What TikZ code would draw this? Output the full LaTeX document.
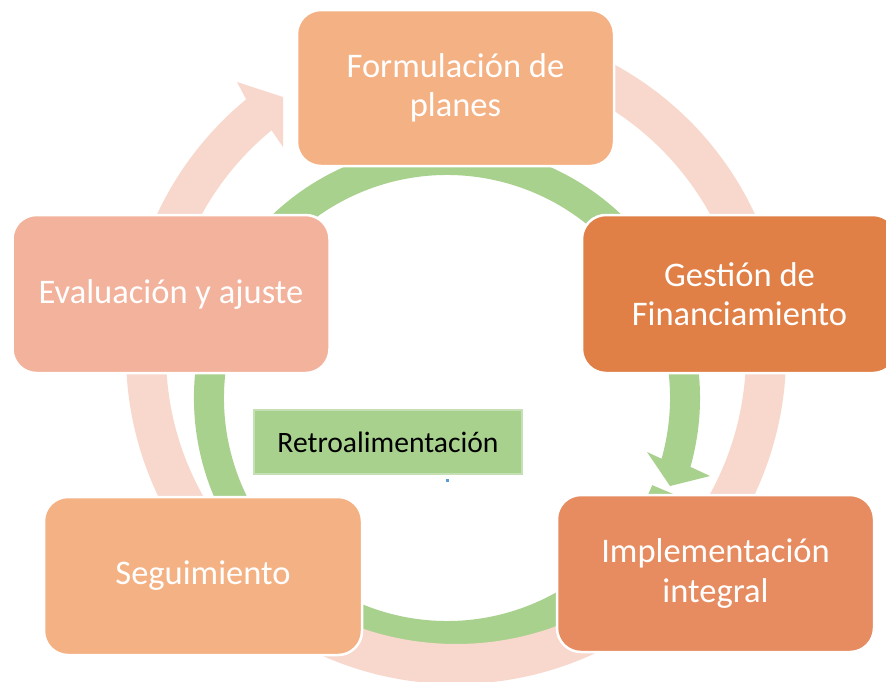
\documentclass[tikz,border=0pt]{standalone}
\usepackage{fontspec}
\setmainfont{Carlito}
\definecolor{ringpink}{HTML}{F8D8CD}
\definecolor{ringgreen}{HTML}{A9D18E}
\definecolor{boxlight}{HTML}{F4B183}
\definecolor{boxdark}{HTML}{E07F46}
\definecolor{boxmid}{HTML}{E68C60}
\definecolor{boxsalmon}{HTML}{F2B29C}
\definecolor{retroborder}{HTML}{C5E0B4}
\definecolor{dotblue}{HTML}{5B9BD5}
\begin{document}
\begin{tikzpicture}[x=1pt,y=-1pt,
  stagebox/.style={draw=white, line width=2.5pt, rounded corners=24pt, text=white,
    align=center, inner sep=0pt, font=\fontsize{34.5}{39.5}\selectfont},
  retrobox/.style={draw=retroborder, fill=ringgreen, line width=2pt, text=black,
    inner sep=0pt, font=\fontsize{29.6}{34}\selectfont}]
\useasboundingbox (0,0) rectangle (886,681);
\clip (0,0) rectangle (886,681);
\fill[white] (0,0) rectangle (886,681);
% green feedback ring
\begin{scope}[shift={(447pt,-398pt)}, y=1pt]
  \fill[ringgreen] (-23:253) arc[start angle=-23, end angle=-375.8, radius=253]
    -- (263,-78) -- (223,-88) -- (200,-54)
    -- (-375.8:223) arc[start angle=-375.8, end angle=-23, radius=223] -- cycle;
\end{scope}
% pink cycle ring
\begin{scope}[shift={(456pt,-354pt)}, y=1pt]
  \fill[ringpink] (110:330) arc[start angle=110, end angle=-230.5, radius=330]
    -- (-219,272) -- (-173,257) -- (-173,207)
    -- (-230.5:290) arc[start angle=-230.5, end angle=110, radius=290] -- cycle;
\end{scope}
% stages
\node[stagebox, fill=boxlight, minimum width=317pt, minimum height=156pt] (form) at (455.5,88) {Formulación de\\planes};
\node[stagebox, fill=boxdark, minimum width=315pt, minimum height=158pt] (gest) at (739.5,294) {Gestión de\\Financiamiento};
\node[stagebox, fill=boxmid, minimum width=317pt, minimum height=157pt] (impl) at (715.5,573.5) {Implementación\\integral};
\node[stagebox, fill=boxlight, minimum width=318pt, minimum height=158pt] (segu) at (203,576) {Seguimiento};
\node[stagebox, fill=boxsalmon, minimum width=317pt, minimum height=158pt] (eval) at (171,294) {Evaluación y ajuste};
% feedback label
\node[retrobox, minimum width=268pt, minimum height=64pt] (retro) at (388,442) {Retroalimentación};
\fill[dotblue] (445.5,478.5) rectangle (448.5,481.5);
\end{tikzpicture}
\end{document}
